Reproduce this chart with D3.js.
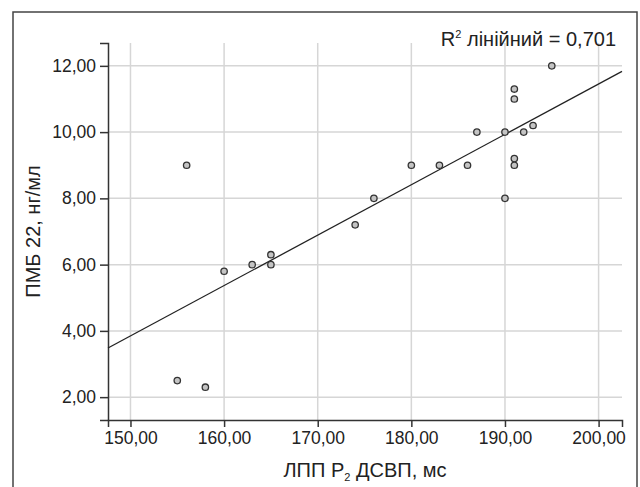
<!DOCTYPE html>
<html>
<head>
<meta charset="utf-8">
<script src="https://cdn.jsdelivr.net/npm/d3@7"></script>
<style>
  body { margin: 0; background: #fff; }
  text { font-family: "Liberation Sans", Arial, sans-serif; fill: #222; }
</style>
</head>
<body>
<div id="chart"></div>
<script>
const width = 640;
const height = 487;
const margin = {top: 43, right: 18, bottom: 67, left: 108};

// values
const lppValues = [155, 158, 156, 160, 163, 165, 165, 174, 176, 180, 183, 186, 187, 190, 190, 191, 191, 191, 191, 192, 193, 195];
const pmbValues = [2.5, 2.3, 9.0, 5.8, 6.0, 6.3, 6.0, 7.2, 8.0, 9.0, 9.0, 9.0, 10.0, 10.0, 8.0, 11.3, 11.0, 9.2, 9.0, 10.0, 10.2, 12.0];
const xTicks = [150, 160, 170, 180, 190, 200];
const yTicks = [2, 4, 6, 8, 10, 12];
const xDomain = [147.6, 202.5];
const yDomain = [1.31, 12.69];

const points = lppValues.map((x, i) => ({x: x, y: pmbValues[i]}));

const fmt = v => d3.format(".2f")(v).replace(".", ",");

const svg = d3.select("#chart").append("svg")
  .attr("width", width)
  .attr("height", height);

// outer frame
svg.append("rect")
  .attr("x", 13).attr("y", 12)
  .attr("width", 624).attr("height", 500)
  .attr("fill", "none")
  .attr("stroke", "#444")
  .attr("stroke-width", 1.5);

const x = d3.scaleLinear().domain(xDomain).range([margin.left, width - margin.right]);
const y = d3.scaleLinear().domain(yDomain).range([height - margin.bottom, margin.top]);

// grid
svg.append("g")
  .selectAll("line")
  .data(xTicks)
  .join("line")
  .attr("x1", d => x(d)).attr("x2", d => x(d))
  .attr("y1", y.range()[0]).attr("y2", y.range()[1])
  .attr("stroke", "#d6d6d6").attr("stroke-width", 1.5);
svg.append("g")
  .selectAll("line")
  .data(yTicks)
  .join("line")
  .attr("y1", d => y(d)).attr("y2", d => y(d))
  .attr("x1", x.range()[0]).attr("x2", x.range()[1])
  .attr("stroke", "#d6d6d6").attr("stroke-width", 1.5);

// axes
const xAxis = g => g
  .attr("transform", `translate(0, ${height - margin.bottom})`)
  .call(d3.axisBottom(x).tickValues(xTicks).tickFormat(fmt).tickSizeOuter(0).tickSize(7).tickPadding(5))
  .call(g => g.selectAll("line, path").attr("stroke", "#333").attr("stroke-width", 1.5))
  .call(g => g.selectAll("text").attr("font-size", "17.5px").attr("fill", "#222")
    .attr("font-family", "Liberation Sans, Arial, sans-serif"));

const yAxis = g => g
  .attr("transform", `translate(${margin.left}, 0)`)
  .call(d3.axisLeft(y).tickValues(yTicks).tickFormat(fmt).tickSizeOuter(0).tickSize(8).tickPadding(4))
  .call(g => g.selectAll("line, path").attr("stroke", "#333").attr("stroke-width", 1.5))
  .call(g => g.selectAll("text").attr("font-size", "17.5px").attr("fill", "#222")
    .attr("font-family", "Liberation Sans, Arial, sans-serif"));

svg.append("g").call(xAxis);
svg.append("g").call(yAxis);

// linear fit through the points
const mx = d3.mean(points, d => d.x);
const my = d3.mean(points, d => d.y);
const slope = d3.sum(points, d => (d.x - mx) * (d.y - my)) / d3.sum(points, d => (d.x - mx) ** 2);
const intercept = my - slope * mx;

svg.append("line")
  .attr("x1", x(xDomain[0])).attr("y1", y(intercept + slope * xDomain[0]))
  .attr("x2", x(xDomain[1])).attr("y2", y(intercept + slope * xDomain[1]))
  .attr("stroke", "#222")
  .attr("stroke-width", 1.3);

// points
svg.append("g")
  .selectAll("circle")
  .data(points)
  .join("circle")
  .attr("cx", d => x(d.x))
  .attr("cy", d => y(d.y))
  .attr("r", 3.2)
  .attr("fill", "#c4c4c4")
  .attr("stroke", "#333")
  .attr("stroke-width", 1.3);

// labels
const rLabel = svg.append("text")
  .attr("x", 616).attr("y", 46)
  .attr("text-anchor", "end")
  .attr("font-size", "20px");
rLabel.append("tspan").text("R");
rLabel.append("tspan").attr("font-size", "11px").attr("dy", -8).text("2");
rLabel.append("tspan").attr("dy", 8).text(" лінійний = 0,701");

const xLabel = svg.append("text")
  .attr("x", 365).attr("y", 477)
  .attr("text-anchor", "middle")
  .attr("font-size", "20px");
xLabel.append("tspan").text("ЛПП Р");
xLabel.append("tspan").attr("font-size", "11px").attr("dy", 4).text("2");
xLabel.append("tspan").attr("dy", -4).text(" ДСВП, мс");

svg.append("text")
  .attr("transform", `translate(40, ${(y.range()[0] + y.range()[1]) / 2}) rotate(-90)`)
  .attr("text-anchor", "middle")
  .attr("font-size", "20px")
  .text("ПМБ 22, нг/мл");
</script>
</body>
</html>
